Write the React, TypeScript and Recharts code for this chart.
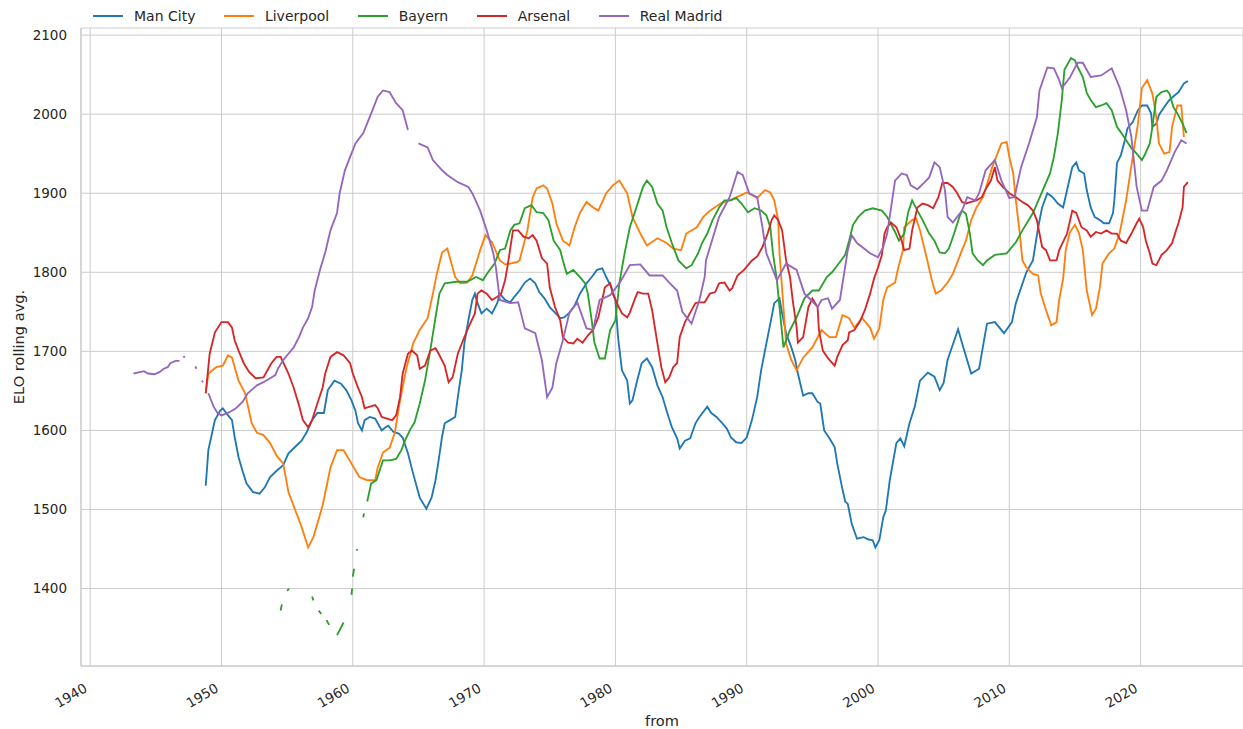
import React from "react";
import { LineChart, Line, XAxis, YAxis, CartesianGrid, Label } from "recharts";

type Pt = [number, number | null];

const TEAMS = ["Man City", "Liverpool", "Bayern", "Arsenal", "Real Madrid"];
const COLORS = ["#1f77b4", "#ff7f0e", "#2ca02c", "#d62728", "#9467bd"];
const YEAR_TICKS = [1940, 1950, 1960, 1970, 1980, 1990, 2000, 2010, 2020];
const ELO_TICKS = [1400, 1500, 1600, 1700, 1800, 1900, 2000, 2100];

const manCity: Pt[] = [
  [1948.8, 1530], [1949.0, 1575], [1949.3, 1598], [1949.5, 1613], [1949.9, 1625], [1950.1, 1628],
  [1950.5, 1619], [1950.8, 1613], [1951.0, 1592], [1951.3, 1566], [1951.6, 1549], [1951.9, 1533],
  [1952.4, 1522], [1952.9, 1520], [1953.3, 1528], [1953.7, 1541], [1954.2, 1549], [1954.7, 1556],
  [1955.1, 1571], [1955.6, 1579], [1956.1, 1587], [1956.5, 1598], [1956.9, 1613], [1957.3, 1622],
  [1957.8, 1622], [1958.1, 1651], [1958.6, 1663], [1959.1, 1659], [1959.5, 1651], [1959.9, 1638],
  [1960.2, 1625], [1960.4, 1609], [1960.7, 1600], [1960.9, 1613], [1961.3, 1617], [1961.7, 1615],
  [1961.9, 1609], [1962.2, 1600], [1962.5, 1604], [1962.7, 1606], [1963.1, 1598], [1963.5, 1596],
  [1963.8, 1591], [1964.2, 1571], [1964.6, 1545], [1965.1, 1515], [1965.6, 1501], [1966.0, 1515],
  [1966.3, 1537], [1966.5, 1558], [1966.8, 1592], [1967.0, 1609], [1967.4, 1613], [1967.8, 1617],
  [1968.0, 1642], [1968.3, 1676], [1968.5, 1710], [1968.8, 1739], [1969.1, 1765], [1969.3, 1773],
  [1969.5, 1761], [1969.8, 1748], [1970.2, 1754], [1970.6, 1748], [1971.0, 1761], [1971.2, 1773],
  [1971.6, 1765], [1972.0, 1762], [1972.3, 1769], [1972.7, 1777], [1973.1, 1787], [1973.5, 1792],
  [1973.9, 1786], [1974.2, 1775], [1974.6, 1767], [1975.0, 1756], [1975.4, 1749], [1975.8, 1742],
  [1976.1, 1743], [1976.5, 1749], [1976.9, 1758], [1977.3, 1773], [1977.8, 1786], [1978.2, 1794],
  [1978.6, 1803], [1979.0, 1805], [1979.3, 1794], [1979.7, 1781], [1980.0, 1765], [1980.2, 1718],
  [1980.5, 1676], [1980.9, 1663], [1981.1, 1634], [1981.3, 1638], [1981.6, 1659], [1982.0, 1685],
  [1982.4, 1691], [1982.8, 1680], [1983.2, 1657], [1983.6, 1642], [1983.9, 1625], [1984.3, 1604],
  [1984.7, 1590], [1984.9, 1577], [1985.3, 1587], [1985.7, 1590], [1986.1, 1609], [1986.4, 1617],
  [1987.0, 1630], [1987.3, 1622], [1987.7, 1617], [1988.1, 1610], [1988.5, 1602], [1988.8, 1591],
  [1989.2, 1585], [1989.6, 1584], [1990.0, 1591], [1990.4, 1613], [1990.8, 1642], [1991.1, 1676],
  [1991.5, 1710], [1991.8, 1735], [1992.1, 1761], [1992.5, 1767], [1992.7, 1748], [1993.0, 1723],
  [1993.4, 1705], [1993.7, 1689], [1993.9, 1672], [1994.3, 1644], [1994.7, 1647], [1995.0, 1647],
  [1995.4, 1636], [1995.6, 1634], [1995.9, 1600], [1996.3, 1590], [1996.7, 1579], [1996.9, 1558],
  [1997.2, 1533], [1997.5, 1510], [1997.7, 1507], [1998.0, 1482], [1998.4, 1463], [1998.9, 1465],
  [1999.3, 1462], [1999.6, 1461], [1999.8, 1452], [2000.1, 1461], [2000.4, 1490], [2000.6, 1499],
  [2000.9, 1537], [2001.4, 1584], [2001.7, 1590], [2002.0, 1580], [2002.4, 1609], [2002.8, 1630],
  [2003.2, 1663], [2003.5, 1668], [2003.8, 1673], [2004.3, 1668], [2004.7, 1651], [2005.0, 1660],
  [2005.3, 1689], [2006.1, 1728], [2006.5, 1705], [2007.1, 1672], [2007.7, 1678], [2008.3, 1735],
  [2008.9, 1737], [2009.6, 1723], [2010.2, 1737], [2010.5, 1761], [2011.3, 1800], [2011.8, 1815],
  [2012.2, 1857], [2012.5, 1882], [2012.9, 1900], [2013.3, 1895], [2013.7, 1887], [2014.1, 1882],
  [2014.4, 1904], [2014.8, 1933], [2015.1, 1939], [2015.3, 1929], [2015.7, 1925], [2015.9, 1904],
  [2016.2, 1882], [2016.5, 1870], [2016.9, 1866], [2017.2, 1862], [2017.6, 1862], [2017.9, 1875],
  [2018.0, 1891], [2018.2, 1938], [2018.5, 1948], [2018.8, 1967], [2019.0, 1982], [2019.4, 1990],
  [2019.8, 2005], [2020.1, 2011], [2020.5, 2011], [2020.8, 2001], [2020.9, 1984], [2021.2, 1988],
  [2021.4, 1999], [2021.8, 2009], [2022.2, 2018], [2022.6, 2024], [2022.9, 2028], [2023.3, 2039],
  [2023.6, 2042],
];

const liverpool: Pt[] = [
  [1948.8, 1647], [1949.0, 1672], [1949.6, 1680], [1950.1, 1682], [1950.5, 1695], [1950.8, 1692],
  [1951.3, 1663], [1951.8, 1647], [1952.3, 1609], [1952.7, 1597], [1953.2, 1594], [1953.7, 1584],
  [1954.2, 1568], [1954.7, 1558], [1955.1, 1522], [1955.6, 1500], [1956.1, 1478], [1956.6, 1452],
  [1957.0, 1465], [1957.3, 1482], [1957.7, 1505], [1958.1, 1537], [1958.3, 1553], [1958.8, 1575],
  [1959.3, 1575], [1959.9, 1558], [1960.5, 1541], [1961.1, 1537], [1961.7, 1537], [1961.9, 1553],
  [1962.3, 1572], [1962.8, 1578], [1963.2, 1597], [1963.6, 1638], [1964.1, 1680], [1964.6, 1710],
  [1965.1, 1727], [1965.7, 1742], [1966.1, 1773], [1966.4, 1798], [1966.8, 1825], [1967.2, 1830],
  [1967.8, 1794], [1968.2, 1786], [1968.7, 1787], [1969.1, 1796], [1969.7, 1828], [1970.1, 1847],
  [1970.6, 1838], [1971.2, 1815], [1971.6, 1810], [1972.0, 1811], [1972.5, 1813], [1972.7, 1815],
  [1973.3, 1853], [1973.7, 1895], [1974.0, 1906], [1974.5, 1910], [1974.8, 1906], [1975.2, 1887],
  [1975.5, 1862], [1976.0, 1840], [1976.5, 1834], [1976.9, 1857], [1977.3, 1875], [1977.8, 1889],
  [1978.3, 1882], [1978.7, 1878], [1979.3, 1900], [1979.8, 1910], [1980.3, 1916], [1980.9, 1900],
  [1981.3, 1870], [1981.9, 1849], [1982.4, 1834], [1983.2, 1843], [1983.9, 1837], [1984.4, 1830],
  [1985.0, 1828], [1985.4, 1849], [1986.2, 1857], [1986.7, 1870], [1987.2, 1878], [1988.0, 1887],
  [1988.7, 1891], [1989.5, 1897], [1990.0, 1901], [1990.8, 1894], [1991.4, 1904], [1991.8, 1901],
  [1992.1, 1891], [1992.4, 1866], [1992.5, 1824], [1993.0, 1710], [1993.4, 1689], [1993.8, 1676],
  [1994.3, 1692], [1995.0, 1705], [1995.7, 1727], [1996.3, 1718], [1996.8, 1718], [1997.3, 1746],
  [1997.8, 1742], [1998.2, 1730], [1998.8, 1742], [1999.4, 1730], [1999.7, 1716], [2000.1, 1729],
  [2000.4, 1765], [2000.7, 1781], [2001.3, 1787], [2001.5, 1803], [2001.9, 1828], [2002.0, 1857],
  [2002.6, 1866], [2002.9, 1868], [2003.2, 1853], [2003.7, 1819], [2004.1, 1790], [2004.4, 1773],
  [2004.8, 1777], [2005.3, 1787], [2005.7, 1798], [2006.1, 1815], [2006.4, 1828], [2006.7, 1840],
  [2007.1, 1866], [2007.5, 1882], [2008.0, 1895], [2008.7, 1933], [2009.1, 1950], [2009.4, 1963],
  [2009.8, 1965], [2010.0, 1946], [2010.3, 1925], [2010.5, 1891], [2010.8, 1849], [2011.0, 1815],
  [2011.3, 1806], [2011.8, 1798], [2012.2, 1796], [2012.4, 1773], [2012.8, 1752], [2013.2, 1733],
  [2013.6, 1737], [2013.8, 1765], [2014.1, 1792], [2014.3, 1828], [2014.6, 1850], [2015.0, 1860],
  [2015.3, 1850], [2015.6, 1828], [2015.9, 1777], [2016.3, 1746], [2016.6, 1754], [2016.9, 1781],
  [2017.1, 1811], [2017.6, 1824], [2018.0, 1830], [2018.4, 1849], [2018.9, 1891], [2019.4, 1946],
  [2019.8, 1988], [2020.1, 2033], [2020.5, 2043], [2020.9, 2026], [2021.2, 1996], [2021.4, 1963],
  [2021.8, 1950], [2022.2, 1952], [2022.4, 1984], [2022.8, 2011], [2023.1, 2011], [2023.3, 1971],
];

const bayern: Pt[] = [
  [1954.5, 1372], [1954.6, 1380], [1954.8, null], [1955.0, 1397], [1955.15, 1400], [1955.5, null],
  [1956.9, 1390], [1957.0, 1385], [1957.2, null], [1957.4, 1372], [1957.6, 1368], [1957.8, null],
  [1958.0, 1360], [1958.2, 1354], [1958.5, null], [1958.8, 1341], [1959.3, 1357], [1959.6, null],
  [1959.9, 1392], [1959.95, 1400], [1959.97, null], [1960.0, 1415], [1960.1, 1425], [1960.2, null],
  [1960.3, 1450], [1960.35, 1448], [1960.5, null], [1960.8, 1490], [1960.85, 1495], [1960.95, null],
  [1961.1, 1510], [1961.4, 1533], [1961.8, 1537], [1962.3, 1562], [1962.8, 1562], [1963.3, 1564],
  [1963.7, 1575], [1964.0, 1588], [1964.4, 1602], [1964.7, 1610], [1965.1, 1634], [1965.5, 1663],
  [1965.9, 1701], [1966.3, 1743], [1966.6, 1773], [1967.0, 1786], [1967.9, 1788], [1968.7, 1788],
  [1969.4, 1794], [1969.9, 1790], [1970.3, 1800], [1970.8, 1811], [1971.2, 1828], [1971.6, 1830],
  [1972.0, 1853], [1972.3, 1860], [1972.7, 1862], [1973.1, 1881], [1973.6, 1885], [1974.0, 1876],
  [1974.5, 1875], [1974.9, 1866], [1975.3, 1840], [1975.8, 1828], [1976.0, 1815], [1976.3, 1798],
  [1976.8, 1803], [1977.4, 1792], [1977.7, 1786], [1977.9, 1773], [1978.2, 1739], [1978.4, 1711],
  [1978.8, 1691], [1979.2, 1691], [1979.6, 1727], [1980.0, 1739], [1980.3, 1786], [1980.7, 1824],
  [1981.1, 1857], [1981.6, 1882], [1982.1, 1908], [1982.4, 1916], [1982.8, 1908], [1983.2, 1887],
  [1983.6, 1878], [1983.9, 1857], [1984.3, 1837], [1984.8, 1815], [1985.4, 1805], [1985.8, 1809],
  [1986.3, 1824], [1986.6, 1837], [1987.0, 1849], [1987.4, 1866], [1987.9, 1882], [1988.3, 1891],
  [1988.8, 1891], [1989.2, 1894], [1989.6, 1887], [1990.1, 1876], [1990.6, 1881], [1991.1, 1878],
  [1991.5, 1872], [1991.8, 1857], [1992.0, 1824], [1992.3, 1790], [1992.8, 1705], [1993.3, 1727],
  [1993.8, 1743], [1994.4, 1767], [1995.0, 1777], [1995.5, 1777], [1996.1, 1794], [1996.5, 1800],
  [1997.1, 1813], [1997.5, 1822], [1997.8, 1840], [1998.1, 1860], [1998.5, 1870], [1999.0, 1878],
  [1999.6, 1881], [2000.3, 1878], [2000.7, 1870], [2001.3, 1851], [2001.6, 1840], [2002.0, 1849],
  [2002.3, 1876], [2002.6, 1891], [2003.0, 1878], [2003.4, 1866], [2003.9, 1849], [2004.3, 1840],
  [2004.7, 1825], [2005.1, 1824], [2005.4, 1830], [2005.8, 1849], [2006.2, 1870], [2006.4, 1878],
  [2006.7, 1874], [2007.0, 1849], [2007.2, 1824], [2007.6, 1815], [2008.0, 1809], [2008.3, 1815],
  [2008.9, 1822], [2009.8, 1824], [2010.5, 1838], [2011.0, 1853], [2011.8, 1875], [2012.3, 1894],
  [2013.1, 1925], [2013.4, 1946], [2013.7, 1976], [2014.0, 2018], [2014.2, 2056], [2014.7, 2071],
  [2015.0, 2068], [2015.2, 2060], [2015.6, 2047], [2015.9, 2027], [2016.2, 2018], [2016.6, 2009],
  [2017.0, 2011], [2017.4, 2014], [2017.8, 2005], [2018.2, 1984], [2018.5, 1977], [2018.9, 1967],
  [2019.3, 1957], [2019.7, 1950], [2020.1, 1942], [2020.3, 1948], [2020.7, 1963], [2020.9, 1984],
  [2021.2, 2022], [2021.6, 2028], [2022.0, 2030], [2022.2, 2026], [2022.5, 2009], [2022.8, 2001],
  [2023.2, 1988], [2023.5, 1976],
];

const arsenal: Pt[] = [
  [1948.8, 1647], [1949.1, 1697], [1949.5, 1724], [1950.0, 1737], [1950.5, 1737], [1950.8, 1730],
  [1951.0, 1714], [1951.3, 1701], [1951.7, 1685], [1952.1, 1674], [1952.6, 1666], [1953.2, 1667],
  [1953.5, 1676], [1953.8, 1685], [1954.2, 1693], [1954.5, 1693], [1954.7, 1686], [1955.1, 1672],
  [1955.5, 1654], [1955.9, 1632], [1956.2, 1613], [1956.6, 1604], [1956.9, 1613], [1957.3, 1634],
  [1957.7, 1654], [1957.9, 1672], [1958.3, 1693], [1958.8, 1699], [1959.3, 1695], [1959.8, 1685],
  [1960.0, 1672], [1960.4, 1654], [1960.7, 1642], [1960.9, 1628], [1961.3, 1630], [1961.7, 1632],
  [1961.9, 1628], [1962.2, 1617], [1962.6, 1615], [1963.0, 1613], [1963.3, 1619], [1963.6, 1642],
  [1963.8, 1672], [1964.2, 1697], [1964.5, 1701], [1964.9, 1695], [1965.1, 1678], [1965.5, 1682],
  [1965.9, 1701], [1966.3, 1704], [1966.6, 1695], [1967.0, 1682], [1967.3, 1661], [1967.6, 1667],
  [1968.0, 1697], [1968.4, 1714], [1968.8, 1730], [1969.3, 1748], [1969.5, 1773], [1969.8, 1777],
  [1970.2, 1773], [1970.6, 1765], [1971.0, 1769], [1971.3, 1773], [1971.6, 1790], [1971.8, 1809],
  [1972.2, 1853], [1972.6, 1853], [1973.0, 1845], [1973.4, 1843], [1973.7, 1847], [1974.0, 1840],
  [1974.4, 1818], [1974.8, 1811], [1975.0, 1781], [1975.4, 1756], [1975.8, 1739], [1976.0, 1718],
  [1976.4, 1711], [1976.8, 1710], [1977.1, 1716], [1977.5, 1711], [1977.9, 1720], [1978.3, 1727],
  [1978.7, 1743], [1979.0, 1765], [1979.2, 1781], [1979.6, 1786], [1979.8, 1773], [1980.2, 1758],
  [1980.5, 1748], [1980.9, 1743], [1981.1, 1749], [1981.5, 1767], [1981.7, 1775], [1982.1, 1773],
  [1982.5, 1773], [1982.8, 1752], [1983.2, 1710], [1983.5, 1680], [1983.8, 1661], [1984.1, 1667],
  [1984.4, 1680], [1984.7, 1685], [1984.9, 1718], [1985.3, 1737], [1985.7, 1749], [1986.1, 1761],
  [1986.4, 1762], [1986.8, 1762], [1987.2, 1773], [1987.6, 1775], [1987.9, 1786], [1988.3, 1787],
  [1988.7, 1777], [1988.9, 1780], [1989.3, 1796], [1989.8, 1803], [1990.4, 1815], [1990.8, 1820],
  [1991.2, 1832], [1991.6, 1849], [1991.9, 1866], [1992.1, 1872], [1992.4, 1866], [1992.7, 1853],
  [1993.0, 1815], [1993.3, 1794], [1993.5, 1765], [1993.8, 1731], [1993.9, 1711], [1994.3, 1718],
  [1994.7, 1756], [1995.0, 1767], [1995.4, 1756], [1995.5, 1727], [1995.8, 1701], [1996.2, 1691],
  [1996.7, 1682], [1996.9, 1693], [1997.3, 1708], [1997.7, 1714], [1997.8, 1724], [1998.2, 1727],
  [1998.6, 1737], [1999.0, 1752], [1999.4, 1773], [1999.7, 1792], [2000.0, 1806], [2000.3, 1822],
  [2000.5, 1849], [2000.7, 1857], [2001.0, 1863], [2001.4, 1857], [2001.8, 1840], [2002.0, 1828],
  [2002.4, 1830], [2002.6, 1853], [2003.0, 1882], [2003.4, 1887], [2003.8, 1885], [2004.2, 1881],
  [2004.6, 1895], [2004.9, 1913], [2005.3, 1913], [2005.7, 1908], [2006.0, 1901], [2006.4, 1889],
  [2006.7, 1887], [2007.1, 1889], [2007.5, 1891], [2007.9, 1895], [2008.3, 1908], [2008.6, 1916],
  [2008.9, 1933], [2009.1, 1916], [2009.5, 1908], [2010.0, 1900], [2010.5, 1895], [2011.0, 1889],
  [2011.4, 1885], [2011.8, 1878], [2012.1, 1866], [2012.3, 1849], [2012.5, 1832], [2012.8, 1828],
  [2013.1, 1815], [2013.6, 1815], [2013.8, 1828], [2014.4, 1849], [2014.8, 1878], [2015.1, 1875],
  [2015.5, 1857], [2015.9, 1853], [2016.2, 1845], [2016.6, 1851], [2017.0, 1849], [2017.4, 1853],
  [2017.8, 1849], [2018.2, 1849], [2018.5, 1840], [2018.9, 1837], [2019.3, 1849], [2019.7, 1862],
  [2019.9, 1868], [2020.2, 1857], [2020.4, 1840], [2020.7, 1824], [2020.9, 1811], [2021.2, 1809],
  [2021.6, 1822], [2022.0, 1828], [2022.4, 1837], [2022.7, 1853], [2022.9, 1863], [2023.2, 1882],
  [2023.3, 1908], [2023.6, 1914],
];

const realMadrid: Pt[] = [
  [1943.3, 1672], [1944.1, 1675], [1944.4, 1672], [1944.9, 1671], [1945.3, 1674], [1945.6, 1678],
  [1945.9, 1680], [1946.1, 1685], [1946.5, 1688], [1946.8, 1688], [1946.9, null], [1947.1, 1694],
  [1947.2, 1692], [1947.3, null], [1948.0, 1681], [1948.1, 1678], [1948.3, null], [1948.5, 1663],
  [1948.6, 1661], [1948.8, null], [1949.0, 1647], [1949.4, 1630], [1949.7, 1622], [1950.0, 1619],
  [1950.6, 1623], [1951.1, 1628], [1951.6, 1636], [1952.0, 1647], [1952.7, 1657], [1953.2, 1661],
  [1953.7, 1666], [1954.1, 1670], [1954.3, 1678], [1954.7, 1689], [1955.1, 1697], [1955.5, 1705],
  [1955.9, 1718], [1956.2, 1730], [1956.6, 1742], [1956.9, 1756], [1957.1, 1777], [1957.5, 1803],
  [1957.9, 1825], [1958.3, 1853], [1958.8, 1875], [1959.0, 1900], [1959.4, 1929], [1959.8, 1946],
  [1960.2, 1963], [1960.8, 1976], [1961.4, 2001], [1961.9, 2022], [1962.3, 2030], [1962.8, 2028],
  [1963.3, 2014], [1963.8, 2005], [1964.2, 1980], [1964.5, null], [1965.0, 1963], [1965.7, 1958],
  [1966.1, 1942], [1966.8, 1929], [1967.2, 1923], [1968.0, 1914], [1968.8, 1908], [1969.1, 1900],
  [1969.7, 1878], [1970.2, 1853], [1970.7, 1824], [1970.9, 1806], [1971.2, 1765], [1972.0, 1761],
  [1972.6, 1762], [1973.1, 1729], [1973.9, 1723], [1974.4, 1689], [1974.8, 1642], [1975.2, 1654],
  [1975.5, 1685], [1976.0, 1714], [1976.5, 1749], [1977.1, 1762], [1977.8, 1729], [1978.3, 1727],
  [1978.8, 1765], [1979.6, 1771], [1980.3, 1786], [1981.1, 1809], [1981.9, 1810], [1982.6, 1796],
  [1983.6, 1796], [1984.1, 1787], [1984.7, 1777], [1985.1, 1750], [1985.8, 1735], [1986.4, 1765],
  [1986.8, 1794], [1986.9, 1815], [1987.9, 1870], [1988.7, 1895], [1989.3, 1927], [1989.7, 1923],
  [1990.2, 1900], [1990.8, 1895], [1991.2, 1857], [1991.5, 1824], [1992.3, 1790], [1993.0, 1811],
  [1993.8, 1803], [1994.4, 1773], [1994.9, 1765], [1995.4, 1756], [1995.7, 1765], [1996.2, 1767],
  [1996.5, 1754], [1997.1, 1765], [1997.7, 1828], [1998.0, 1847], [1998.4, 1837], [1999.4, 1824],
  [2000.0, 1819], [2000.4, 1832], [2000.7, 1849], [2001.3, 1916], [2001.8, 1925], [2002.2, 1923],
  [2002.5, 1910], [2003.0, 1905], [2003.5, 1913], [2003.9, 1920], [2004.3, 1939], [2004.7, 1933],
  [2005.1, 1904], [2005.3, 1870], [2005.7, 1863], [2006.4, 1878], [2006.8, 1895], [2007.4, 1891],
  [2007.7, 1900], [2008.2, 1929], [2008.9, 1942], [2009.4, 1916], [2010.0, 1894], [2010.4, 1895],
  [2010.9, 1933], [2011.5, 1963], [2012.1, 1996], [2012.3, 2030], [2012.9, 2059], [2013.4, 2058],
  [2013.8, 2043], [2014.0, 2033], [2014.6, 2046], [2015.2, 2065], [2015.6, 2065], [2016.2, 2047],
  [2017.0, 2049], [2017.8, 2058], [2018.4, 2034], [2018.9, 2005], [2019.3, 1971], [2019.7, 1908],
  [2020.1, 1878], [2020.5, 1878], [2021.0, 1908], [2021.6, 1916], [2022.0, 1929], [2022.6, 1952],
  [2023.1, 1967], [2023.5, 1963],
];

const SERIES = [manCity, liverpool, bayern, arsenal, realMadrid];

const FONT = "'DejaVu Sans', sans-serif";
const INK = "#262626";
const GRID = "#cccccc";

const toRows = (pts: Pt[]) => pts.map(([year, elo]) => ({ year, elo }));

function YearTick({ x, y, payload }: any) {
  return (
    <text
      x={x - 2}
      y={y + 25}
      transform={`rotate(-30 ${x - 2} ${y + 25})`}
      textAnchor="end"
      fontSize={13.5}
      fontFamily={FONT}
      fill={INK}
    >
      {payload.value}
    </text>
  );
}

function ChartLegend() {
  return (
    <div
      style={{
        position: "absolute",
        left: 93,
        top: 8,
        height: 16,
        display: "flex",
        alignItems: "center",
        fontFamily: FONT,
        fontSize: 14,
        color: INK,
        whiteSpace: "nowrap",
      }}
    >
      {TEAMS.map((t, i) => (
        <div key={t} style={{ display: "flex", alignItems: "center", marginRight: 28.5 }}>
          <span style={{ width: 30, height: 2, background: COLORS[i], marginRight: 11 }} />
          <span>{t}</span>
        </div>
      ))}
    </div>
  );
}

export default function App() {
  return (
    <div style={{ position: "absolute", left: 0, top: 0, width: 1243, height: 729, background: "#fff" }}>
      <LineChart width={1243} height={729} margin={{ top: 28, right: 0, bottom: 0, left: 0 }}>
        <CartesianGrid stroke={GRID} strokeWidth={1} />
        <XAxis
          dataKey="year"
          type="number"
          domain={[1939.3, 2027.8]}
          allowDataOverflow
          ticks={YEAR_TICKS}
          height={63}
          tickLine={false}
          tickSize={0}
          tickMargin={0}
          axisLine={{ stroke: GRID, strokeWidth: 1.25 }}
          tick={<YearTick />}
          interval={0}
        >
          <Label
            content={({ viewBox }: any) => (
              <text
                x={viewBox.x + viewBox.width / 2}
                y={viewBox.y + viewBox.height - 3}
                textAnchor="middle"
                fontSize={14.6}
                fontFamily={FONT}
                fill={INK}
              >
                from
              </text>
            )}
          />
        </XAxis>
        <YAxis
          type="number"
          domain={[1302, 2109]}
          allowDataOverflow
          ticks={ELO_TICKS}
          width={81}
          tickLine={false}
          tickSize={0}
          tickMargin={14}
          axisLine={{ stroke: GRID, strokeWidth: 1.25 }}
          tick={{ fontSize: 13.5, fontFamily: FONT, fill: INK }}
          interval={0}
        >
          <Label
            content={({ viewBox }: any) => {
              const cx = viewBox.x + 18.5;
              const cy = viewBox.y + viewBox.height / 2;
              return (
                <text
                  x={cx}
                  y={cy}
                  transform={`rotate(-90 ${cx} ${cy})`}
                  textAnchor="middle"
                  dominantBaseline="central"
                  fontSize={14.6}
                  fontFamily={FONT}
                  fill={INK}
                >
                  ELO rolling avg.
                </text>
              );
            }}
          />
        </YAxis>
        {SERIES.map((s, i) => (
          <Line
            key={TEAMS[i]}
            data={toRows(s)}
            dataKey="elo"
            name={TEAMS[i]}
            type="linear"
            stroke={COLORS[i]}
            strokeWidth={1.85}
            dot={false}
            activeDot={false}
            connectNulls={false}
            isAnimationActive={false}
          />
        ))}
      </LineChart>
      <ChartLegend />
    </div>
  );
}
